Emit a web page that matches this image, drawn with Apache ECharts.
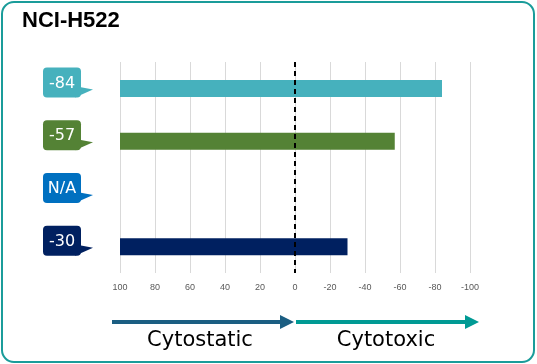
<!DOCTYPE html>
<html><head><meta charset="utf-8">
<script src="https://cdn.jsdelivr.net/npm/echarts@6/dist/echarts.min.js"></script>
<style>html,body{margin:0;padding:0;background:#fff}#c{width:537px;height:364px}</style>
</head><body><div id="c"></div>
<script>
const title = 'NCI-H522';
const categories = ['A', 'B', 'C', 'D'];
const values = [-84, -57, null, -30];
const colors = ['#46B1BD', '#548235', '#0070C0', '#002060'];
const axisStart = 100;
const xTicks = [-100, -80, -60, -40, -20, 0, 20, 40, 60, 80, 100];
const leftLabel = 'Cytostatic';
const rightLabel = 'Cytotoxic';

const chart = echarts.init(document.getElementById('c'), null, {renderer: 'canvas'});
const baseData = values.map((v, i) => v == null ? null : {value: axisStart, itemStyle: {color: colors[i]}});
const valData = values.map((v, i) => v == null ? null : {value: v, itemStyle: {color: colors[i]}});
const bubbleData = categories.map((c, i) => [0, i]);

chart.setOption({
  animation: false,
  grid: {left: 120, right: 67, top: 62, bottom: 91},
  xAxis: {
    type: 'value', min: -100, max: 100, interval: 20, inverse: true,
    axisLine: {show: false}, axisTick: {show: false},
    splitLine: {lineStyle: {color: '#d9d9d9', width: 1}},
    axisLabel: {color: '#595959', fontSize: 9, margin: 10, fontFamily: 'Liberation Sans'}
  },
  yAxis: {
    type: 'category', data: categories, inverse: true,
    axisLine: {show: false}, axisTick: {show: false}, axisLabel: {show: false}
  },
  series: [
    {type: 'bar', stack: 's', barWidth: 17, data: baseData},
    {type: 'bar', stack: 's', barWidth: 17, data: valData,
      markLine: {silent: true, symbol: 'none', label: {show: false},
        lineStyle: {color: '#000', width: 2, type: [5, 4]},
        data: [{xAxis: 0}]}},
    {type: 'custom', data: bubbleData, clip: false, z: 5,
      encode: {x: 0, y: 1},
      renderItem: function (params, api) {
        const idx = api.value(1);
        const cy = api.coord([0, idx])[1] - 6;
        const x0 = 43, w = 38, h = 30;
        const y0 = cy - h / 2;
        const v = values[idx];
        const txt = v == null ? 'N/A' : String(v);
        return {type: 'group', children: [
          {type: 'polygon', shape: {points: [[x0 + w - 4, y0 + h - 11], [x0 + w + 12, y0 + h - 8], [x0 + w - 6, y0 + h]]}, style: {fill: colors[idx]}},
          {type: 'rect', shape: {x: x0, y: y0, width: w, height: h, r: 4}, style: {fill: colors[idx]}},
          {type: 'text', style: {x: x0 + w / 2, y: cy + 1, text: txt, fill: '#fff', fontSize: 16, fontFamily: 'DejaVu Sans', align: 'center', verticalAlign: 'middle'}}
        ]};
      }
    }
  ],
  graphic: [
    {type: 'rect', shape: {x: 2, y: 2, width: 532, height: 360, r: 12}, style: {fill: 'none', stroke: '#1a9c9a', lineWidth: 2}, z: -1},
    {type: 'text', x: 22, y: 21, style: {text: title, fontSize: 22, fontWeight: 'bold', fontFamily: 'Liberation Sans', fill: '#000', verticalAlign: 'middle'}},
    {type: 'line', shape: {x1: 112, y1: 322, x2: 282, y2: 322}, style: {stroke: '#1B5E82', lineWidth: 4}},
    {type: 'polygon', shape: {points: [[280, 315], [294, 322], [280, 329]]}, style: {fill: '#1B5E82'}},
    {type: 'line', shape: {x1: 296, y1: 322, x2: 467, y2: 322}, style: {stroke: '#009A94', lineWidth: 4}},
    {type: 'polygon', shape: {points: [[465, 315], [479, 322], [465, 329]]}, style: {fill: '#009A94'}},
    {type: 'text', x: 200, y: 341, style: {text: leftLabel, fontSize: 21, fontFamily: 'DejaVu Sans', fill: '#000', align: 'center', verticalAlign: 'middle'}},
    {type: 'text', x: 386, y: 341, style: {text: rightLabel, fontSize: 21, fontFamily: 'DejaVu Sans', fill: '#000', align: 'center', verticalAlign: 'middle'}}
  ]
});
</script></body></html>
